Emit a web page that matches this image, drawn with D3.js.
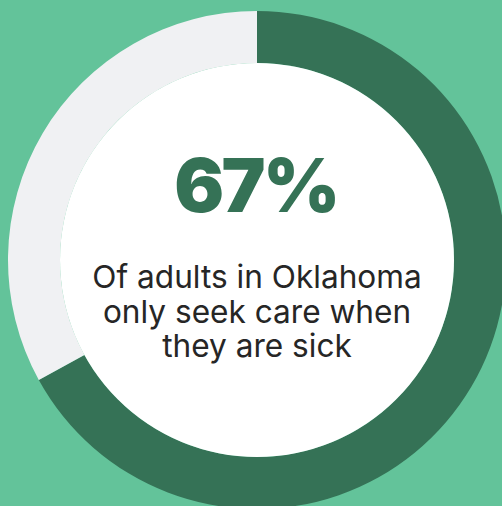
<!DOCTYPE html>
<html>
<head>
<meta charset="utf-8">
<script src="https://cdn.jsdelivr.net/npm/d3@7"></script>
<style>
  html, body { margin: 0; padding: 0; background: #63c39a; overflow: hidden; }
  svg { display: block; }
</style>
</head>
<body>
<svg id="chart" width="502" height="506"></svg>
<script>
// Share of adults who only seek care when sick
const categories = ["Only seek care when sick", "Other"];
const values = [67, 33];
const colors = ["#357256", "#f0f1f3"];
const headline = "67%";
const captionLines = ["Of adults in Oklahoma", "only seek care when", "they are sick"];

const width = 502, height = 506;
const cx = 257, cy = 260;
const outerR = 249, innerR = 197;

const svg = d3.select("#chart");

svg.append("rect")
  .attr("width", width).attr("height", height)
  .attr("fill", "#63c39a");

const g = svg.append("g").attr("transform", `translate(${cx},${cy})`);

const pie = d3.pie().sort(null).value(d => d.value);
const arc = d3.arc().innerRadius(innerR).outerRadius(outerR);

const data = categories.map((c, i) => ({ name: c, value: values[i] }));

g.selectAll("path.slice")
  .data(pie(data))
  .join("path")
  .attr("class", "slice")
  .attr("d", arc)
  .attr("fill", (d, i) => colors[i]);

g.append("circle")
  .attr("r", innerR)
  .attr("fill", "#ffffff");

// Headline figure, condensed slightly with negative tracking
const big = g.append("text")
  .attr("y", 212 - cy)
  .attr("font-family", "Inter, 'Noto Sans', sans-serif")
  .attr("font-weight", 900)
  .attr("font-size", 74)
  .attr("letter-spacing", -2.5)
  .attr("fill", "#357256")
  .text(headline);
const bw = big.node().getComputedTextLength();
big.attr("x", -bw / 2 - 1);

g.append("g")
  .selectAll("text")
  .data(captionLines)
  .join("text")
  .attr("x", 0)
  .attr("y", (d, i) => 288 - cy + i * 34.5)
  .attr("text-anchor", "middle")
  .attr("font-family", "Inter, 'Noto Sans', sans-serif")
  .attr("font-weight", 400)
  .attr("font-size", 31.6)
  .attr("fill", "#262626")
  .text(d => d);
</script>
</body>
</html>
